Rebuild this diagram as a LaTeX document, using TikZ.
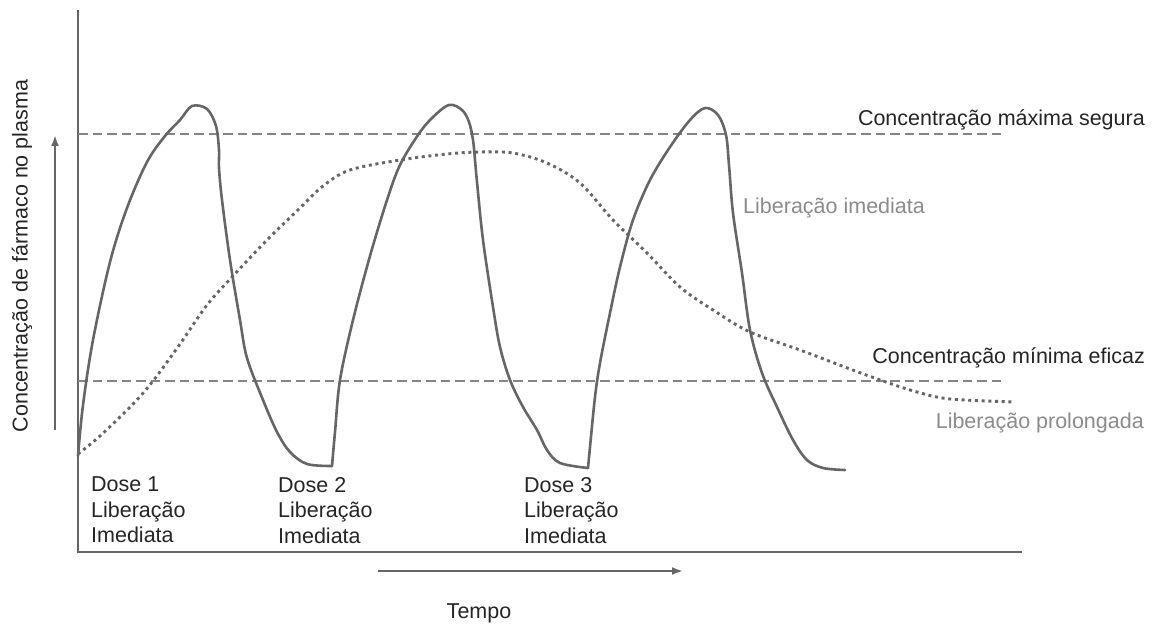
\documentclass[tikz,border=0pt]{standalone}
\usepackage{fontspec}
\setmainfont{Liberation Sans}
\usetikzlibrary{arrows.meta}
\definecolor{curvegray}{HTML}{666666}
\definecolor{dashgray}{HTML}{858585}
\definecolor{txtdark}{HTML}{262626}
\definecolor{txtlight}{HTML}{8C8C8C}
\tikzset{
  axisline/.style={draw=curvegray, line width=2.6pt},
  limitline/.style={draw=dashgray, line width=2.9pt, dash pattern=on 9.5pt off 5pt},
  irline/.style={draw=curvegray, line width=2.6pt, line join=round, line cap=round},
  prline/.style={draw=curvegray, line width=2.9pt, dash pattern=on 3pt off 3.7pt},
  lbl/.style={font=\fontsize{21.5}{25.5}\selectfont, text=txtdark, inner sep=0pt},
  lbllight/.style={font=\fontsize{21.5}{25.5}\selectfont, text=txtlight, inner sep=0pt},
  doselbl/.style={lbl, align=left, anchor=north west},
  timearrow/.style={draw=curvegray, line width=2.2pt, -{Latex[length=11pt,width=8pt]}},
}
\begin{document}
\begin{tikzpicture}[x=1pt,y=-1pt]
\useasboundingbox[fill=white] (0,0) rectangle (1157,628);

% axes
\coordinate (ytop) at (78,10);
\coordinate (origin) at (78,552);
\coordinate (xend) at (1022,552);
\draw[axisline] (ytop) -- (origin) -- (xend);

% limit lines
\coordinate (maxL) at (78,134);
\coordinate (maxR) at (1003,134);
\coordinate (minL) at (78,381);
\coordinate (minR) at (1003,381);
\draw[limitline] (maxL) -- (maxR);
\draw[limitline] (minL) -- (minR);

% immediate release curve
\draw[irline] plot[smooth, tension=0.55] coordinates {
  (78,456) (83,405) (93,340) (110,262) (127,208) (147,162) (165,136) (180,120)
  (192,106) (207,109) (216,126) (219,150) (219,168) (222,200) (230,260) (240,320)
  (247,358) (263,400) (277,432) (290,452) (307,464) (332,466)};
\draw[irline] plot[smooth, tension=0.55] coordinates {
  (332,466) (335,432) (340,380) (353,320) (370,256) (387,200) (400,165) (418,135)
  (432,118) (449,105) (462,110) (469,122) (473,140) (475,160) (477,182) (483,240)
  (493,307) (500,347) (510,380) (523,407) (537,430) (547,450) (560,463) (588,468)};
\draw[irline] plot[smooth, tension=0.55] coordinates {
  (588,468) (590,447) (595,397) (600,363) (610,313) (620,267) (633,220) (650,180)
  (670,147) (690,120) (705,108) (718,115) (726,135) (729,165) (733,213) (742,273)
  (750,330) (762,373) (777,407) (793,440) (807,460) (823,468) (845,470)};

% prolonged release curve
\draw[prline] plot[smooth, tension=0.55] coordinates {
  (78,454) (100,436) (133,404) (153,381) (180,344) (207,305) (233,276) (267,240)
  (300,208) (323,186) (350,170) (400,160) (447,154) (480,152) (513,153) (547,163)
  (580,183) (613,220) (647,253) (680,287) (713,310) (750,332) (800,350) (850,369)
  (883,381) (917,392) (950,399) (1015,402)};

% y axis arrow and label
\coordinate (yarrS) at (55,430);
\coordinate (yarrE) at (55,135);
\draw[timearrow] (yarrS) -- (yarrE);
\node[lbl, rotate=90] (ylabel) at (22,256) {Concentração de fármaco no plasma};

% x axis arrow and label
\coordinate (xarrS) at (378,571);
\coordinate (xarrE) at (683,571);
\draw[timearrow] (xarrS) -- (xarrE);
\node[lbl] (tempo) at (479,613) {Tempo};

% limit labels
\node[lbl, anchor=east] (maxlbl) at (1145,120) {Concentração máxima segura};
\node[lbl, anchor=east] (minlbl) at (1145,358) {Concentração mínima eficaz};
\node[lbllight, anchor=west] (irlbl) at (743,208) {Liberação imediata};
\node[lbllight, anchor=east] (prlbl) at (1144,423) {Liberação prolongada};

% dose labels
\node[doselbl] (dose1) at (91,477) {Dose 1\\Liberação\\Imediata};
\node[doselbl] (dose2) at (278,477) {Dose 2\\Liberação\\Imediata};
\node[doselbl] (dose3) at (524,477) {Dose 3\\Liberação\\Imediata};
\end{tikzpicture}
\end{document}
